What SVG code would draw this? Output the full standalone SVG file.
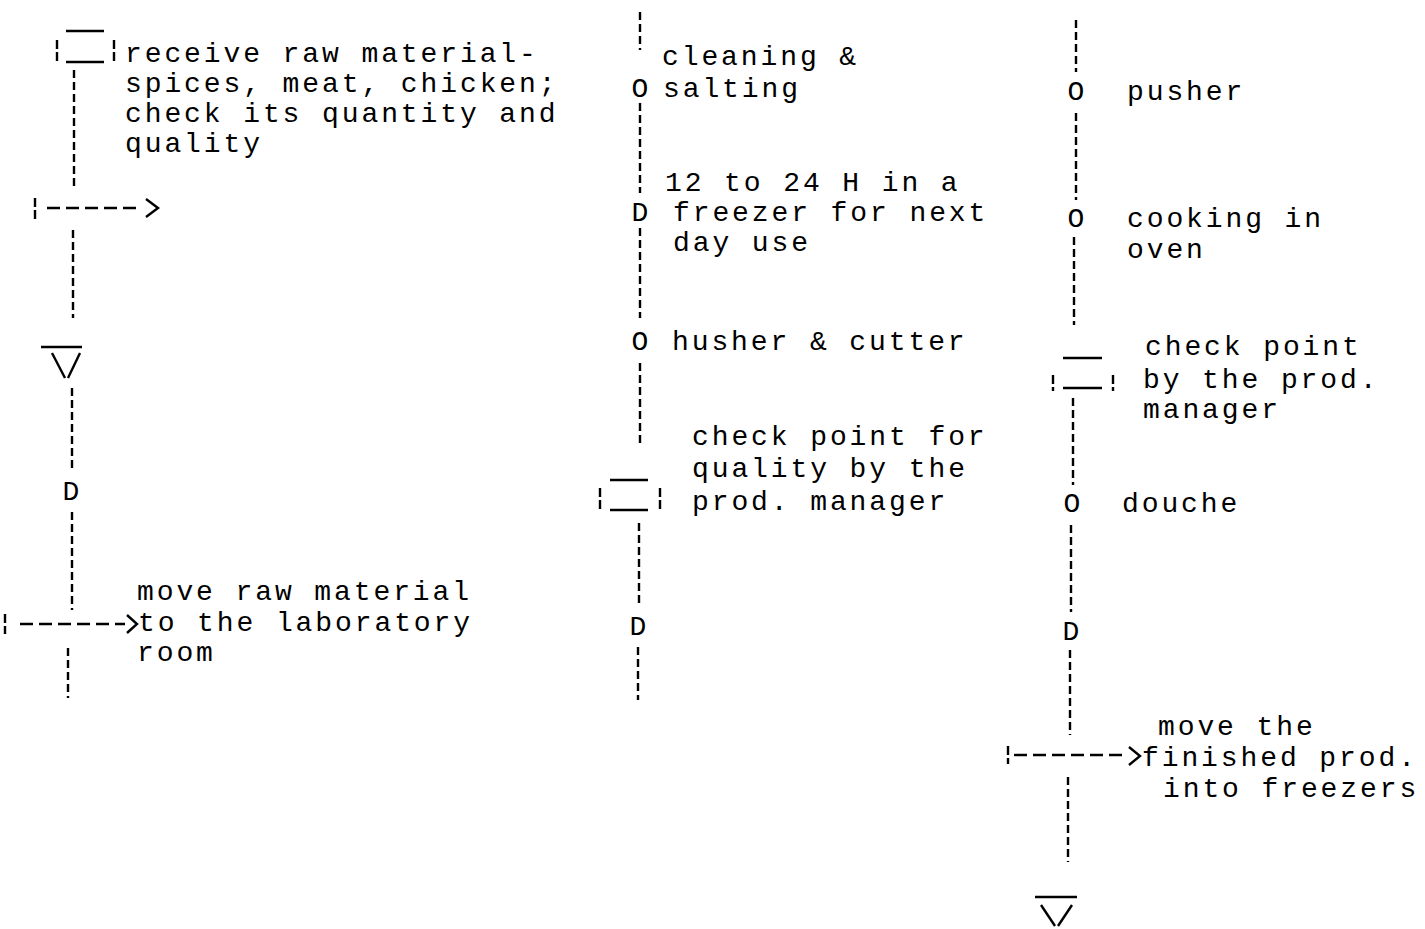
<svg xmlns="http://www.w3.org/2000/svg" width="1425" height="929" viewBox="0 0 1425 929">
<style>
text{font-family:"Liberation Mono","DejaVu Sans Mono",monospace;font-size:28px;letter-spacing:2.9px;fill:#000}
.sym{text-anchor:middle;letter-spacing:0}
.v{stroke:#000;stroke-width:2.4;stroke-dasharray:8 4;fill:none}
.h{stroke:#000;stroke-width:2.4;stroke-dasharray:13 6;fill:none}
.tk{stroke:#000;stroke-width:2.4;stroke-dasharray:9 3;fill:none}
.s{stroke:#000;stroke-width:2.4;fill:none}
</style>
<rect width="1425" height="929" fill="#fff"/>
<g id="connectors">
<line class="v" x1="74" y1="70" x2="74" y2="190"/>
<line class="v" x1="73" y1="230" x2="73" y2="318"/>
<line class="v" x1="72" y1="388" x2="72" y2="470"/>
<line class="v" x1="72" y1="512" x2="72" y2="610"/>
<line class="v" x1="68" y1="648" x2="68" y2="698"/>
<g id="arrow1"><line class="tk" x1="35" y1="198" x2="35" y2="220"/><line class="h" x1="47" y1="208" x2="140" y2="208"/><polyline class="s" points="146,199 158,208 146,217"/></g>
<g id="arrow2"><line class="tk" x1="5" y1="614" x2="5" y2="634"/><line class="h" x1="20" y1="624" x2="125" y2="624"/><polyline class="s" points="127,615 137,624 127,633"/></g>
<line class="v" x1="640" y1="12" x2="640" y2="50"/>
<line class="v" x1="640" y1="103" x2="640" y2="193"/>
<line class="v" x1="640" y1="228" x2="640" y2="318"/>
<line class="v" x1="640" y1="363" x2="640" y2="447"/>
<line class="v" x1="639" y1="523" x2="639" y2="605"/>
<line class="v" x1="638" y1="647" x2="638" y2="700"/>
<line class="v" x1="1076" y1="20" x2="1076" y2="72"/>
<line class="v" x1="1076" y1="113" x2="1076" y2="200"/>
<line class="v" x1="1074" y1="237" x2="1074" y2="325"/>
<line class="v" x1="1073" y1="398" x2="1073" y2="485"/>
<line class="v" x1="1071" y1="525" x2="1071" y2="612"/>
<line class="v" x1="1070" y1="650" x2="1070" y2="735"/>
<line class="v" x1="1068" y1="777" x2="1068" y2="862"/>
<g id="arrow3"><line class="tk" x1="1008" y1="746" x2="1008" y2="764"/><line class="h" x1="1014" y1="755" x2="1127" y2="755"/><polyline class="s" points="1129,747 1140,756 1129,765"/></g>
</g>
<g id="n1-receive">
<line class="s" x1="66" y1="31" x2="104" y2="31"/>
<line class="s" x1="66" y1="62" x2="104" y2="62"/>
<line class="tk" x1="57" y1="40" x2="57" y2="63"/>
<line class="tk" x1="114" y1="40" x2="114" y2="63"/>
<text x="125" y="62">receive raw material-</text>
<text x="125" y="92">spices, meat, chicken;</text>
<text x="125" y="122">check its quantity and</text>
<text x="125" y="152">quality</text>
</g>
<g id="n2-storage1">
<line class="s" x1="41" y1="347" x2="82" y2="347"/>
<polyline class="s" points="52,353 65,378"/>
<polyline class="s" points="68,378 80,353"/>
</g>
<g id="n3-delay1"><text class="sym" x="71" y="500">D</text></g>
<g id="n4-move1">
<text x="137" y="600">move raw material</text>
<text x="138" y="631">to the laboratory</text>
<text x="137" y="661">room</text>
</g>
<g id="n5-cleaning">
<text class="sym" x="640" y="97">O</text>
<text x="662" y="65">cleaning &amp;</text>
<text x="663" y="97">salting</text>
</g>
<g id="n6-freezer">
<text class="sym" x="640" y="221">D</text>
<text x="665" y="191">12 to 24 H in a</text>
<text x="673" y="221">freezer for next</text>
<text x="673" y="251">day use</text>
</g>
<g id="n7-husher">
<text class="sym" x="640" y="350">O</text>
<text x="672" y="350">husher &amp; cutter</text>
</g>
<g id="n8-check1">
<line class="s" x1="610" y1="480" x2="648" y2="480"/>
<line class="s" x1="610" y1="510" x2="648" y2="510"/>
<line class="tk" x1="600" y1="488" x2="600" y2="511"/>
<line class="tk" x1="660" y1="488" x2="660" y2="511"/>
<text x="692" y="445">check point for</text>
<text x="692" y="477">quality by the</text>
<text x="692" y="510">prod. manager</text>
</g>
<g id="n9-delay2"><text class="sym" x="638" y="635">D</text></g>
<g id="n10-pusher">
<text class="sym" x="1076" y="100">O</text>
<text x="1127" y="100">pusher</text>
</g>
<g id="n11-cooking">
<text class="sym" x="1076" y="227">O</text>
<text x="1127" y="227">cooking in</text>
<text x="1127" y="258">oven</text>
</g>
<g id="n12-check2">
<line class="s" x1="1063" y1="358" x2="1102" y2="358"/>
<line class="s" x1="1063" y1="388" x2="1102" y2="388"/>
<line class="tk" x1="1053" y1="375" x2="1053" y2="391"/>
<line class="tk" x1="1113" y1="375" x2="1113" y2="391"/>
<text x="1145" y="355">check point</text>
<text x="1143" y="388">by the prod.</text>
<text x="1143" y="418">manager</text>
</g>
<g id="n13-douche">
<text class="sym" x="1072" y="512">O</text>
<text x="1122" y="512">douche</text>
</g>
<g id="n14-delay3"><text class="sym" x="1071" y="640">D</text></g>
<g id="n15-move2">
<text x="1158" y="735">move the</text>
<text x="1142" y="766">finished prod.</text>
<text x="1163" y="797">into freezers</text>
</g>
<g id="n16-storage2">
<line class="s" x1="1035" y1="897" x2="1077" y2="897"/>
<polyline class="s" points="1041,905 1055,926"/>
<polyline class="s" points="1058,926 1072,905"/>
</g>
</svg>
